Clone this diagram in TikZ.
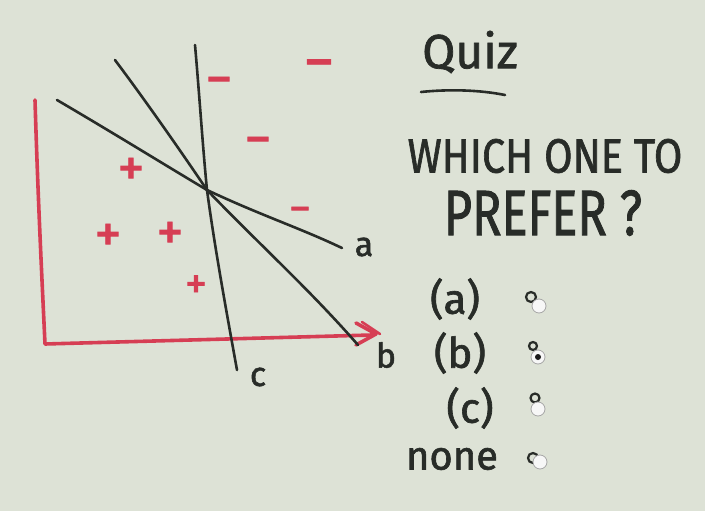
\documentclass[tikz,border=0pt]{standalone}
\usepackage{fontspec}
\setmainfont{Fira Sans}
\newfontfamily\handfont{Fira Sans}[FakeBold=1.5]
\definecolor{board}{RGB}{221,226,214}
\definecolor{ink}{RGB}{40,44,40}
\definecolor{marker}{RGB}{214,62,84}
\begin{document}
\begin{tikzpicture}[x=1pt,y=-1pt,
  blackline/.style={draw=ink,line width=2.6pt,line cap=round},
  redline/.style={draw=marker,line width=3.6pt,line cap=round,line join=round},
  sign/.style={text=marker,inner sep=0pt,font=\fontsize{#1}{#1}\handfont},
  sign/.default=54,
  hand/.style={text=ink,font=\fontsize{#1}{#1}\handfont},
  hand/.default=30,
  radio/.style={circle,draw=gray!70,fill=white!94!gray,line width=0.8pt,minimum size=14pt,inner sep=0pt},
  handmark/.style={draw=ink,line width=2.2pt}]
\useasboundingbox (0,0) rectangle (705,511);
\fill[board] (0,0) rectangle (705,511);
% axes
\coordinate (ytop) at (35,100);
\coordinate (origin) at (45,344);
\coordinate (xend) at (372,335);
\draw[redline] (ytop) .. controls (38,200) and (42,280) .. (origin) -- (xend);
\draw[redline] (356,323) -- (376,334) -- (356,345);
\draw[redline,line width=2.6pt] (362,322) -- (380,334);
% separating lines
\coordinate (X) at (207,190);
\coordinate (a1) at (57,100);
\coordinate (a2) at (342,248);
\coordinate (b1) at (115,60);
\coordinate (b2) at (358,345);
\coordinate (c1) at (195,45);
\coordinate (c2) at (237,370);
\draw[blackline] (a1) .. controls (120,137) and (160,162) .. (X) .. controls (260,215) and (300,228) .. (a2);
\draw[blackline] (b1) .. controls (145,100) and (180,150) .. (X) .. controls (260,245) and (310,290) .. (b2);
\draw[blackline] (c1) .. controls (199,90) and (203,150) .. (X) .. controls (215,250) and (228,320) .. (c2);
\node[hand=34] (la) at (364,247) {a};
\node[hand=34] (lb) at (386,355) {b};
\node[hand=34] (lc) at (258,377) {c};
% plus signs
\node[sign] (p1) at (131,172) {+};
\node[sign] (p2) at (108,238) {+};
\node[sign] (p3) at (170,236) {+};
\node[sign=44] (p4) at (196,287) {+};
% minus signs
\node[sign] (m1) at (219,87) {−};
\node[sign=62] (m2) at (319,71) {−};
\node[sign] (m3) at (258,147) {−};
\node[sign=44] (m4) at (300,215) {−};
% text
\node[hand=48] (quiz) at (470,52) {Quiz};
\coordinate (u1) at (421,92);
\coordinate (u2) at (505,95);
\draw[blackline] (u1) .. controls (450,89) and (480,90) .. (u2);
\node[hand=48,xscale=0.86] (q1) at (545,156) {WHICH ONE TO};
\node[hand=64,xscale=0.76] (q2) at (543,213) {PREFER ?};
\node[hand=42] (oa) at (455,299) {(a)};
\node[hand=42] (ob) at (460,353) {(b)};
\node[hand=42] (oc) at (470,408) {(c)};
\node[hand=40] (on) at (452,459) {none};
% hand marks and radio buttons
\draw[handmark] (531,297) circle (5pt);
\draw[handmark] (533,346) circle (4pt);
\draw[handmark] (535,398) circle (4.5pt);
\draw[handmark] (533,458) circle (5pt);
\node[radio] (ra) at (539,306) {};
\node[radio] (rb) at (538,357) {};
\fill[gray!20!black] (rb) circle (3pt);
\node[radio] (rc) at (538,409) {};
\node[radio] (rn) at (540,462) {};
\end{tikzpicture}
\end{document}
